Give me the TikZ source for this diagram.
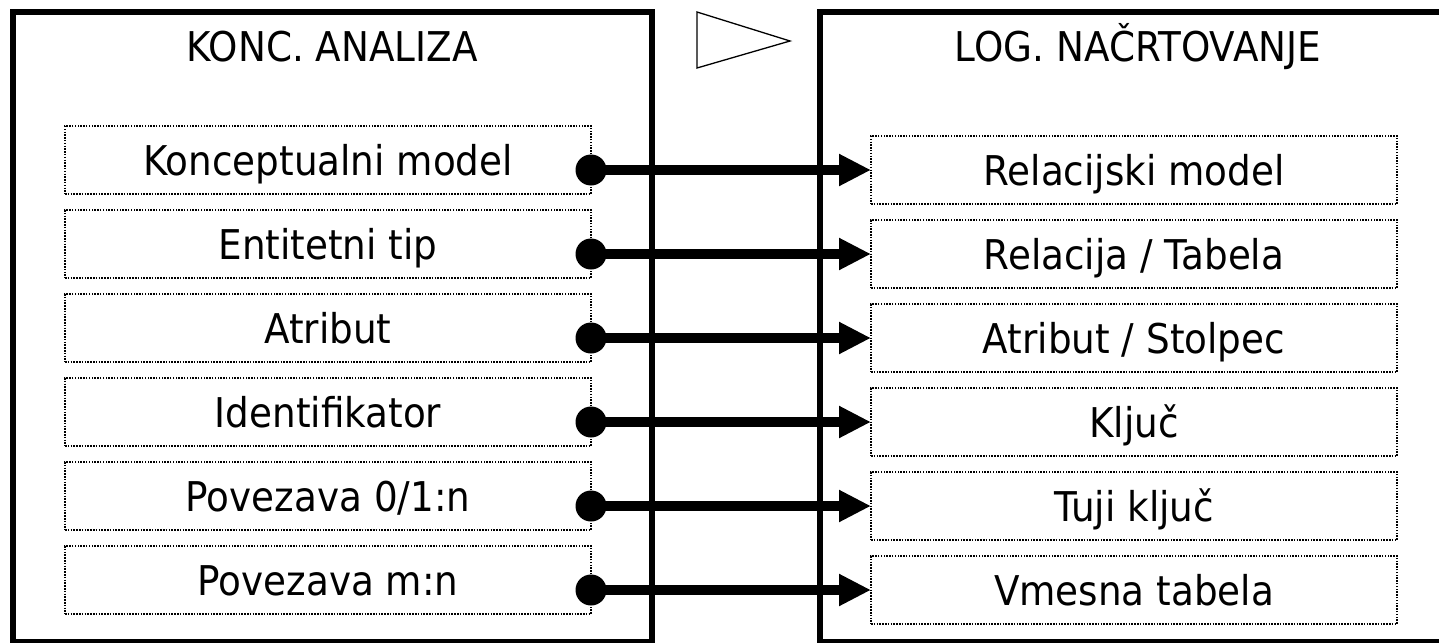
\documentclass[tikz,border=0pt]{standalone}
\usepackage{fontspec}
\setmainfont[FakeStretch=0.91]{DejaVu Sans}
\usetikzlibrary{arrows.meta}
\tikzset{
  bigbox/.style={line width=6pt},
  itembox/.style={draw, line width=1.5pt, dash pattern=on 1.5pt off 1.3pt,
    minimum width=526pt, minimum height=68pt, inner sep=0pt, outer sep=0pt,
    text height=30pt, text depth=0pt, font=\fontsize{41pt}{49pt}\selectfont},
  titletext/.style={anchor=base, inner sep=0pt, font=\fontsize{41pt}{49pt}\selectfont},
  maparrow/.style={line width=10pt, -{Triangle[length=32pt,width=30pt]}},
  mapdot/.style={fill=black}
}
\begin{document}
\begin{tikzpicture}[x=1pt,y=-1pt]
\useasboundingbox (0,0) rectangle (1439,642);
% big frames
\draw[bigbox] (12.5,642) -- (12.5,12.5) -- (651.5,12.5) -- (651.5,642) -- cycle;
\draw[bigbox] (819.5,642) -- (819.5,12.5) -- (1460,12.5) -- (1460,642) -- cycle;
% triangle
\draw[line width=1.3pt, line join=miter] (697,12) -- (790,41) -- (697,68) -- cycle;
% titles
\node[titletext] (tl) at (332,62) {KONC. ANALIZA};
\node[titletext] (tr) at (1138,62) {LOG. NAČRTOVANJE};
% left items
\node[itembox] (l0) at (328,160) {Konceptualni model};
\node[itembox] (l1) at (328,244) {Entitetni tip};
\node[itembox] (l2) at (328,328) {Atribut};
\node[itembox] (l3) at (328,412) {Identifikator};
\node[itembox] (l4) at (328,496) {Povezava 0/1:n};
\node[itembox] (l5) at (328,580) {Povezava m:n};
% right items
\node[itembox] (r0) at (1134,170) {Relacijski model};
\node[itembox] (r1) at (1134,254) {Relacija / Tabela};
\node[itembox] (r2) at (1134,338) {Atribut / Stolpec};
\node[itembox] (r3) at (1134,422) {Ključ};
\node[itembox] (r4) at (1134,506) {Tuji ključ};
\node[itembox] (r5) at (1134,590) {Vmesna tabela};
% connectors
\foreach \i in {0,...,5}{
  \draw[maparrow] (l\i.east |- r\i.west) -- (r\i.west);
  \fill[mapdot] (l\i.east |- r\i.west) circle (15.5pt);
}
\end{tikzpicture}
\end{document}
